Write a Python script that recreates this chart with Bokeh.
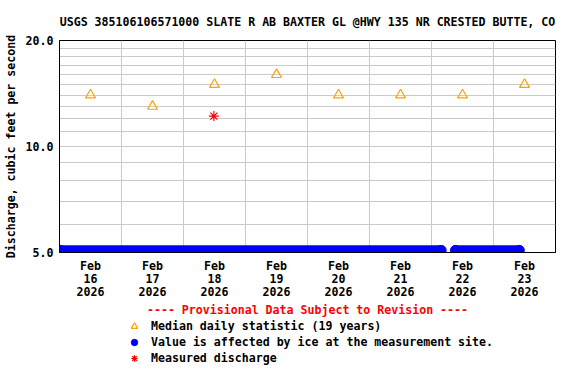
from datetime import datetime
from bokeh.plotting import figure
from bokeh.layouts import column
from bokeh.models import (FixedTicker, DatetimeTickFormatter, PrintfTickFormatter,
                          Range1d, Legend, LegendItem, ColumnDataSource)
from bokeh.embed import file_html
from bokeh.resources import INLINE

# ---- data ----
title_text = "USGS 385106106571000 SLATE R AB BAXTER GL @HWY 135 NR CRESTED BUTTE, CO"
y_label = "Discharge, cubic feet per second"
provisional = "---- Provisional Data Subject to Revision ----"

days = ["2026-02-16", "2026-02-17", "2026-02-18", "2026-02-19",
        "2026-02-20", "2026-02-21", "2026-02-22", "2026-02-23"]
median_values = [14.0, 13.0, 15.0, 16.0, 14.0, 14.0, 14.0, 15.0]

ice_start = ["2026-02-16 00:15", "2026-02-22 09:15"]
ice_end = ["2026-02-22 03:45", "2026-02-23 10:00"]
ice_level = [5.07, 5.07]

measured_time = ["2026-02-18 11:45"]
measured_value = [12.2]

y_major = [5, 10, 20]
y_minor = [6, 7, 8, 9, 11, 12, 13, 14, 15, 16, 17, 18, 19]
x_start = "2026-02-16 00:00"
x_end = "2026-02-24 00:00"
grid_days = ["2026-02-17", "2026-02-18", "2026-02-19", "2026-02-20",
             "2026-02-21", "2026-02-22", "2026-02-23"]

legend_labels = ["Median daily statistic (19 years)",
                 "Value is affected by ice at the measurement site.",
                 "Measured discharge"]


def dt(s):
    fmt = "%Y-%m-%d %H:%M" if " " in s else "%Y-%m-%d"
    return datetime.strptime(s, fmt)


def ms(d):
    return (d - datetime(1970, 1, 1)).total_seconds() * 1000.0


FONT = "DejaVu Sans Mono"
FS = "11.6px"

p = figure(x_axis_type="datetime", y_axis_type="log",
           x_range=Range1d(dt(x_start), dt(x_end)),
           y_range=Range1d(5, 20),
           frame_width=496, frame_height=212,
           min_border_left=50, min_border_right=14,
           min_border_top=40, min_border_bottom=65,
           output_backend="svg", toolbar_location=None,
           background_fill_color="white", border_fill_color="white")

# title
p.title.text = title_text
p.title.align = "center"
p.title.text_font = FONT
p.title.text_font_size = FS
p.title.text_font_style = "bold"
p.title.text_color = "black"
p.title.standoff = 24

p.outline_line_color = "black"
p.outline_line_width = 1
p.outline_line_alpha = 1

# grids
grid_color = "#cacaca"
p.xgrid.ticker = FixedTicker(ticks=[ms(dt(d)) for d in grid_days])
p.xgrid.grid_line_color = grid_color
p.ygrid.ticker = FixedTicker(ticks=y_major, minor_ticks=y_minor)
p.ygrid.grid_line_color = grid_color
p.ygrid.minor_grid_line_color = grid_color

# x axis
xa = p.xaxis[0]
xa.ticker = FixedTicker(ticks=[ms(dt(d)) + 12 * 3600 * 1000 for d in days])
fmt = "%b\n%d\n%Y"
xa.formatter = DatetimeTickFormatter(microseconds=fmt, milliseconds=fmt, seconds=fmt,
                                     minsec=fmt, minutes=fmt, hourmin=fmt, hours=fmt,
                                     days=fmt, months=fmt, years=fmt)
xa.major_tick_out = 0
xa.major_tick_in = 0
xa.minor_tick_out = 0
xa.minor_tick_in = 0
xa.major_label_standoff = 6
xa.major_label_text_font = FONT
xa.major_label_text_font_size = FS
xa.major_label_text_font_style = "bold"
xa.major_label_text_color = "black"
xa.major_label_text_line_height = 0.93
xa.axis_line_color = "black"
xa.axis_label = provisional
xa.axis_label_text_font = FONT
xa.axis_label_text_font_size = FS
xa.axis_label_text_font_style = "bold"
xa.axis_label_text_color = "red"
xa.axis_label_standoff = 1

# y axis
ya = p.yaxis[0]
ya.ticker = FixedTicker(ticks=y_major)
ya.formatter = PrintfTickFormatter(format="%.1f")
ya.major_tick_out = 0
ya.major_tick_in = 0
ya.minor_tick_out = 0
ya.minor_tick_in = 0
ya.major_label_standoff = 6
ya.major_label_text_font = FONT
ya.major_label_text_font_size = FS
ya.major_label_text_font_style = "bold"
ya.major_label_text_color = "black"
ya.axis_line_color = "black"
ya.axis_label = y_label
ya.axis_label_text_font = FONT
ya.axis_label_text_font_size = FS
ya.axis_label_text_font_style = "bold"
ya.axis_label_text_color = "black"
ya.axis_label_standoff = 5

# styles
ice_style = dict(marker="circle", fill_color="blue", line_color="blue")
med_style = dict(marker="triangle", fill_alpha=0, line_color="#ffa200", line_width=1.2)
meas_style = dict(marker="asterisk", line_color="red", line_width=1.2)

# ice-affected values
ice_src = ColumnDataSource(dict(x0=[dt(s) for s in ice_start], x1=[dt(s) for s in ice_end],
                                y=ice_level))
p.segment(x0="x0", y0="y", x1="x1", y1="y", source=ice_src,
          line_color="blue", line_width=10, line_cap="butt")
ice_pts = ColumnDataSource(dict(x=[dt(s) for s in ice_start] + [dt(s) for s in ice_end],
                                y=ice_level + ice_level))
p.scatter(x="x", y="y", source=ice_pts, size=10, **ice_style)

# medians
med_src = ColumnDataSource(dict(x=[dt(d + " 12:00") for d in days], y=median_values))
p.scatter(x="x", y="y", source=med_src, size=10, **med_style)

# measured
meas_src = ColumnDataSource(dict(x=[dt(s) for s in measured_time], y=measured_value))
p.scatter(x="x", y="y", source=meas_src, size=10, **meas_style)

# ---- legend panel (a plot of its own, directly below) ----
lg = figure(width=560, height=50, x_range=Range1d(0, 1), y_range=Range1d(0, 1),
            min_border=0, x_axis_location=None, y_axis_location=None,
            output_backend="svg", toolbar_location=None,
            background_fill_color="white", border_fill_color="white")
lg.outline_line_color = None
lg.grid.visible = False
l_med = lg.scatter(x="x", y="y", source=med_src, **med_style)
l_ice = lg.scatter(x="x", y="y", source=ice_pts, **ice_style)
l_meas = lg.scatter(x="x", y="y", source=meas_src, **meas_style)

legend = Legend(items=[
    LegendItem(label=legend_labels[0], renderers=[l_med]),
    LegendItem(label=legend_labels[1], renderers=[l_ice]),
    LegendItem(label=legend_labels[2], renderers=[l_meas]),
], location=(67, 3), orientation="vertical",
    glyph_width=16, glyph_height=16, spacing=0, padding=0, margin=0,
    label_standoff=9, label_height=16,
    label_text_font=FONT, label_text_font_size=FS, label_text_font_style="bold",
    label_text_color="black", border_line_color=None, background_fill_alpha=0)
lg.add_layout(legend)

layout = column(p, lg, spacing=0)
open("out.html", "w").write(file_html(layout, INLINE))
